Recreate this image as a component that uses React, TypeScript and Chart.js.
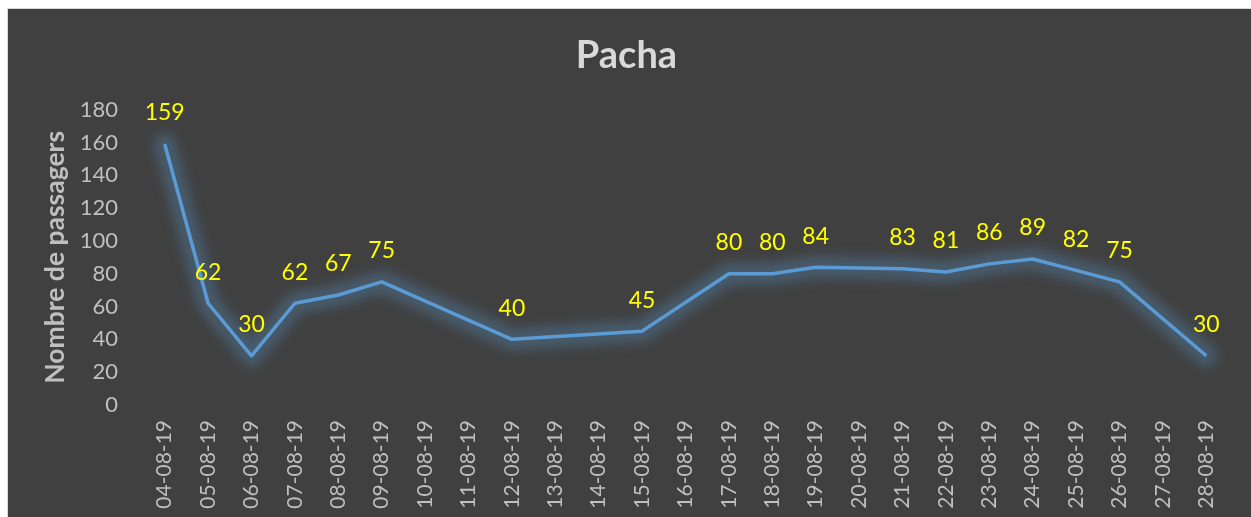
import React, { useEffect, useRef } from "react";
import { Chart, registerables } from "chart.js";

Chart.register(...registerables);

const categories = [
  "04-08-19", "05-08-19", "06-08-19", "07-08-19", "08-08-19", "09-08-19", "10-08-19",
  "11-08-19", "12-08-19", "13-08-19", "14-08-19", "15-08-19", "16-08-19", "17-08-19",
  "18-08-19", "19-08-19", "20-08-19", "21-08-19", "22-08-19", "23-08-19", "24-08-19",
  "25-08-19", "26-08-19", "27-08-19", "28-08-19",
];

const passagers: (number | null)[] = [
  159, 62, 30, 62, 67, 75, null,
  null, 40, null, null, 45, null, 80,
  80, 84, null, 83, 81, 86, 89,
  82, 75, null, 30,
];

const yTicks = [0, 20, 40, 60, 80, 100, 120, 140, 160, 180];

const FONT = "Lato, 'Open Sans', 'DejaVu Sans', sans-serif";

const glowPlugin = {
  id: "glow",
  beforeDatasetDraw(chart: any) {
    const ctx = chart.ctx;
    const meta = chart.getDatasetMeta(0);
    const data = chart.data.datasets[0].data;
    const pts = meta.data.filter((_: any, i: number) => data[i] !== null && data[i] !== undefined);
    ctx.save();
    ctx.filter = "blur(6px)";
    ctx.strokeStyle = "rgba(91,155,213,0.3)";
    ctx.lineWidth = 22;
    ctx.lineJoin = "round";
    ctx.lineCap = "round";
    ctx.beginPath();
    pts.forEach((p: any, k: number) => {
      if (k === 0) ctx.moveTo(p.x, p.y);
      else ctx.lineTo(p.x, p.y);
    });
    ctx.stroke();
    ctx.restore();
  },
};

const labelPlugin = {
  id: "valueLabels",
  afterDatasetsDraw(chart: any) {
    const ctx = chart.ctx;
    const meta = chart.getDatasetMeta(0);
    const data = chart.data.datasets[0].data;
    ctx.save();
    ctx.fillStyle = "#ffff00";
    ctx.font = `23px ${FONT}`;
    ctx.textAlign = "center";
    ctx.textBaseline = "middle";
    meta.data.forEach((pt: any, i: number) => {
      const v = data[i];
      if (v === null || v === undefined) return;
      ctx.fillText(String(v), pt.x, pt.y - 31);
    });
    ctx.restore();
  },
};

export default function App() {
  const canvasRef = useRef<HTMLCanvasElement | null>(null);

  useEffect(() => {
    const canvas = canvasRef.current;
    if (!canvas) return;
    const chart = new Chart(canvas, {
      type: "line",
      data: {
        labels: categories,
        datasets: [
          {
            label: "Nombre de passagers",
            data: passagers,
            borderColor: "#5b9bd5",
            borderWidth: 3.5,
            borderJoinStyle: "round",
            pointRadius: 0,
            pointHoverRadius: 0,
            spanGaps: true,
            tension: 0,
            fill: false,
          },
        ],
      },
      options: {
        animation: false,
        responsive: true,
        maintainAspectRatio: false,
        layout: { padding: { left: 17, right: 23, top: 0, bottom: 0 } },
        plugins: {
          legend: { display: false },
          tooltip: { enabled: false },
          title: {
            display: true,
            text: "Pacha",
            color: "#d9d9d9",
            font: { family: FONT, size: 38, weight: "bold" },
            padding: { top: 24, bottom: 31 },
          },
        },
        scales: {
          x: {
            type: "category",
            offset: true,
            grid: { display: false, drawTicks: false },
            border: { display: false },
            ticks: {
              color: "#bfbfbf",
              font: { family: FONT, size: 21 },
              minRotation: 90,
              maxRotation: 90,
              autoSkip: false,
              padding: 15,
            },
            afterFit(scale: any) {
              scale.height = 112;
            },
          },
          y: {
            min: 0,
            max: 180,
            grid: { display: false, drawTicks: false },
            border: { display: false },
            afterBuildTicks(scale: any) {
              scale.ticks = yTicks.map((v) => ({ value: v }));
            },
            ticks: {
              color: "#bfbfbf",
              font: { family: FONT, size: 22 },
              padding: 25,
            },
            title: {
              display: true,
              text: "Nombre de passagers",
              color: "#bfbfbf",
              font: { family: FONT, size: 26.5, weight: "bold" },
              padding: { top: 15, bottom: 0 },
            },
            afterFit(scale: any) {
              scale.width = 118;
            },
          },
        },
      },
      plugins: [glowPlugin, labelPlugin],
    } as any);
    return () => chart.destroy();
  }, []);

  return (
    <div
      style={{
        position: "fixed",
        left: 7,
        top: 8,
        right: 0,
        bottom: 0,
        background: "#404040",
        borderLeft: "1px solid #d9d9d9",
        borderTop: "1px solid #d9d9d9",
        boxSizing: "border-box",
      }}
    >
      <canvas ref={canvasRef} />
    </div>
  );
}
